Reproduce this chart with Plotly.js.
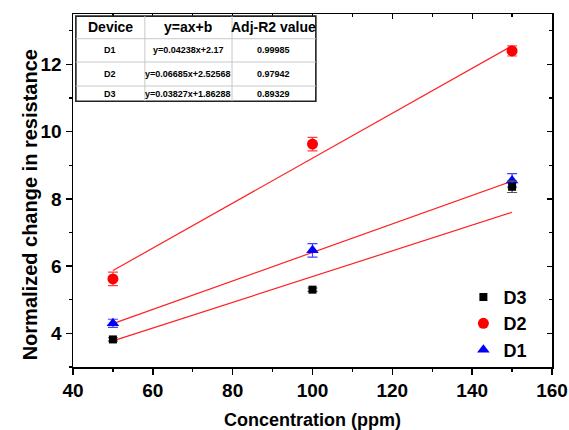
<!DOCTYPE html>
<html>
<head>
<meta charset="utf-8">
<script src="https://cdn.plot.ly/plotly-3.0.1.min.js"></script>
<style>html,body{margin:0;padding:0;background:#fff;}#chart{width:569px;height:430px;}</style>
</head>
<body>
<div id="chart"></div>
<script>
// ---- data ----
const conc = [50, 100, 150];
const d1 = [4.30, 6.47, 8.55];
const d1Err = [0.12, 0.20, 0.20];
const d2 = [5.62, 9.63, 12.40];
const d2Err = [0.20, 0.20, 0.15];
const d3 = [3.82, 5.30, 8.36];
const d3Err = [0.05, 0.05, 0.17];

// table values
const devices = ["D1", "D2", "D3"];
const slopes = [0.04238, 0.06685, 0.03827];
const intercepts = [2.17, 2.52568, 1.86288];
const equations = ["y=0.04238x+2.17", "y=0.06685x+2.52568", "y=0.03827x+1.86288"];
const adjR2 = ["0.99985", "0.97942", "0.89329"];
const headers = ["Device", "y=ax+b", "Adj-R2 value"];

const fitX = [50, 150];

const F = "Arial, 'Liberation Sans', sans-serif";

const traces = [];
// fit lines
for (let i = 0; i < 3; i++) {
  traces.push({
    x: fitX, y: fitX.map(v => slopes[i] * v + intercepts[i]),
    mode: 'lines', line: {color: '#ff2020', width: 1.2},
    showlegend: false, hoverinfo: 'skip'
  });
}
traces.push({
  name: 'D1', x: conc, y: d1, mode: 'markers', type: 'scatter',
  marker: {symbol: 'triangle-up', size: 11, color: '#0000ff'},
  error_y: {type: 'data', array: d1Err, visible: true, color: '#4040ff', thickness: 1.2, width: 5}
});
traces.push({
  name: 'D2', x: conc, y: d2, mode: 'markers', type: 'scatter',
  marker: {symbol: 'circle', size: 11, color: '#ff0000'},
  error_y: {type: 'data', array: d2Err, visible: true, color: '#ff4040', thickness: 1.2, width: 5}
});
traces.push({
  name: 'D3', x: conc, y: d3, mode: 'markers', type: 'scatter',
  marker: {symbol: 'square', size: 8, color: '#000000'},
  error_y: {type: 'data', array: d3Err, visible: true, color: '#555555', thickness: 1.2, width: 5}
});
// dummy for mirrored axes
traces.push({x: [], y: [], xaxis: 'x2', yaxis: 'y2', showlegend: false, mode: 'markers'});

// ---- table (shapes + annotations, paper coords) ----
const colEdges = [0.006, 0.150, 0.332, 0.507];
const rowEdges = [0.994, 0.930, 0.864, 0.796, 0.753];
const shapes = [];
const annotations = [];
shapes.push({type: 'rect', xref: 'paper', yref: 'paper', x0: colEdges[0], x1: colEdges[3],
  y0: rowEdges[4], y1: rowEdges[0], fillcolor: '#ffffff', line: {color: '#222', width: 1.6}, layer: 'above'});
for (let c = 1; c < 3; c++) {
  shapes.push({type: 'line', xref: 'paper', yref: 'paper', x0: colEdges[c], x1: colEdges[c],
    y0: rowEdges[4], y1: rowEdges[0], line: {color: '#c8c8c8', width: 1}, layer: 'above'});
}
for (let r = 1; r < 4; r++) {
  shapes.push({type: 'line', xref: 'paper', yref: 'paper', x0: colEdges[0], x1: colEdges[3],
    y0: rowEdges[r], y1: rowEdges[r], line: {color: '#c8c8c8', width: 1}, layer: 'above'});
}
function cell(text, c, r, size) {
  annotations.push({xref: 'paper', yref: 'paper', x: (colEdges[c] + colEdges[c + 1]) / 2,
    y: (rowEdges[r] + rowEdges[r + 1]) / 2, text: text, showarrow: false,
    xanchor: 'center', yanchor: 'middle',
    font: {family: F, size: size, color: '#000', weight: 'bold'}});
}
headers.forEach((h, c) => cell(h, c, 0, 14));
for (let i = 0; i < 3; i++) {
  cell(devices[i], 0, i + 1, 9);
  cell(equations[i], 1, i + 1, 9);
  cell(adjR2[i], 2, i + 1, 9);
}
// y-axis title as rotated annotation
annotations.push({xref: 'paper', yref: 'paper', x: 0, y: 0.458, xshift: -43, textangle: -90,
  text: 'Normalized change in resistance', showarrow: false, xanchor: 'center', yanchor: 'middle',
  font: {family: F, size: 20, color: '#000', weight: 'bold'}});

const tickFont = {family: F, size: 19, color: '#000', weight: 'bold'};
const layout = {
  width: 569, height: 430,
  margin: {l: 73, r: 17, t: 14, b: 63},
  paper_bgcolor: '#fff', plot_bgcolor: '#fff',
  showlegend: true,
  legend: {x: 0.815, y: 0.25, xanchor: 'left', yanchor: 'top', traceorder: 'reversed',
    font: {family: F, size: 18, color: '#000', weight: 'bold'}, bgcolor: 'rgba(0,0,0,0)',
    itemwidth: 30, tracegroupgap: 0},
  xaxis: {range: [40, 160], dtick: 20, tick0: 40, showgrid: false, zeroline: false,
    showline: true, linecolor: '#000', linewidth: 1.5, ticks: 'outside', ticklen: 6, tickwidth: 1.5,
    tickcolor: '#000', tickfont: tickFont,
    minor: {dtick: 10, ticks: 'outside', ticklen: 3, tickwidth: 1.2, tickcolor: '#000', showgrid: false},
    title: {text: 'Concentration (ppm)', font: {family: F, size: 18, color: '#000', weight: 'bold'}, standoff: 16}},
  yaxis: {range: [3, 13.5], dtick: 2, tick0: 4, showgrid: false, zeroline: false,
    showline: true, linecolor: '#000', linewidth: 1.5, ticks: 'outside', ticklen: 6, tickwidth: 1.5,
    tickcolor: '#000', tickfont: tickFont,
    minor: {dtick: 1, ticks: 'outside', ticklen: 3, tickwidth: 1.2, tickcolor: '#000', showgrid: false}},
  xaxis2: {overlaying: 'x', side: 'top', range: [40, 160], dtick: 20, tick0: 40, showgrid: false, zeroline: false,
    showline: true, linecolor: '#000', linewidth: 1.5, ticks: 'inside', ticklen: 5, tickwidth: 1.2, tickcolor: '#000',
    showticklabels: false, minor: {dtick: 10, ticks: 'inside', ticklen: 3, tickcolor: '#000'}},
  yaxis2: {overlaying: 'y', side: 'right', range: [3, 13.5], dtick: 2, tick0: 4, showgrid: false, zeroline: false,
    showline: true, linecolor: '#000', linewidth: 1.5, ticks: 'inside', ticklen: 5, tickwidth: 1.2, tickcolor: '#000',
    showticklabels: false, minor: {dtick: 1, ticks: 'inside', ticklen: 3, tickcolor: '#000'}},
  shapes: shapes,
  annotations: annotations
};

Plotly.newPlot('chart', traces, layout, {displayModeBar: false, staticPlot: true});
</script>
</body>
</html>
